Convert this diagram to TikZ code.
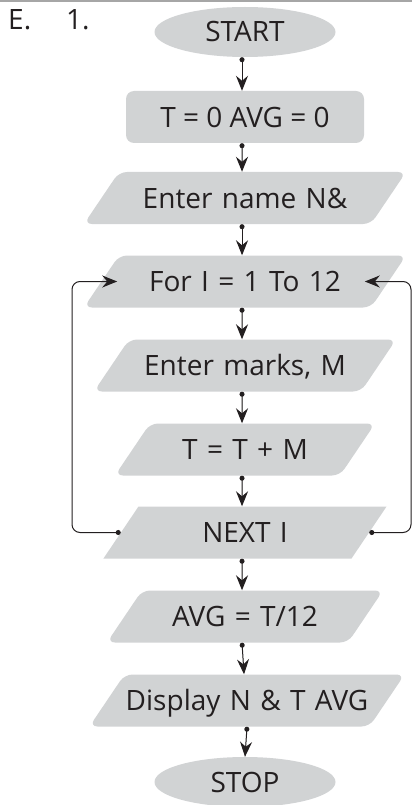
\documentclass[tikz,border=0pt]{standalone}
\usepackage{fontspec}
\setmainfont{Open Sans}
\usepackage{tikz}
\usetikzlibrary{
    arrows.meta,
    shapes.geometric,
    positioning
}
\definecolor{boxgray}{HTML}{D1D3D4}
\definecolor{ink}{HTML}{231F20}
\tikzset{
    >={Stealth[length=15pt, width=12pt, inset=5pt]},
    flow/.style={{Circle[length=5pt, width=5pt]}->, line width=1pt, draw=ink, fill=ink}
}

\begin{document}
\begin{tikzpicture}[x=1pt, y=1pt,
        every node/.style={font=\fontsize{28}{34}\selectfont, text=ink},
        term/.style={ellipse, fill=boxgray, minimum width=181pt, minimum height=50pt, inner sep=0pt},
        proc/.style={rectangle, rounded corners=8pt, fill=boxgray, minimum width=238pt, minimum height=52pt, inner sep=0pt},
        io/.style={trapezium, trapezium left angle=56, trapezium right angle=124, fill=boxgray,
            rounded corners=8pt, inner xsep=0pt, inner ysep=16pt, text height=20pt, text depth=0pt,
            align=center, text width=#1}
    ]
    \useasboundingbox (0,0) rectangle (412,-805);
    \draw[gray!70, line width=1.5pt] (0,-0.8) -- (412,-0.8);

    \node[anchor=base west, inner sep=0pt] (lbl) at (8,-30) {E.};
    \node[anchor=base west, inner sep=0pt] (num) at (66,-30) {1.};

    \node[term] (st) at (245,-32) {START};
    \node[proc] (n1) at (245,-117) {T = 0 AVG = 0};
    \node[io=252pt] (n2) at (245,-198) {Enter name N\&};
    \node[io=252pt] (n3) at (245,-281.5) {For I = 1 To 12};
    \node[io=232pt] (n4) at (245,-365.5) {Enter marks, M};
    \node[io=190pt] (n5) at (245,-449.5) {T = T + M};
    \node[io=213pt, sharp corners] (n6) at (245,-532.5) {NEXT I};
    \node[io=206pt] (n7) at (245,-616.5) {AVG = T/12};
    \node[io=245pt] (n8) at (247,-700.5) {Display N \& T AVG};
    \node[term] (sp) at (245,-782) {STOP};

    \draw[flow] ([xshift=-3pt]st.south) -- ([xshift=-3pt]n1.north);
    \draw[flow] ([xshift=-3pt]n1.south) -- ([xshift=-3pt]n2.north);
    \draw[flow] ([xshift=-3pt]n2.south) -- ([xshift=-3pt]n3.north);
    \draw[flow] ([xshift=-3pt]n3.south) -- ([xshift=-3pt]n4.north);
    \draw[flow] ([xshift=-3pt]n4.south) -- ([xshift=-3pt]n5.north);
    \draw[flow] ([xshift=-3pt]n5.south) -- ([xshift=-3pt]n6.north);
    \draw[flow] ([xshift=-3pt]n6.south) -- ([xshift=-3pt]n7.north);
    \draw[flow] ([xshift=-3pt]n7.south) -- ([xshift=-3pt]n8.north);
    \draw[flow] (n8.south) -- (sp.north);

    % loop back to the For box
    \coordinate (lx) at (72,0);
    \coordinate (rx) at (411,0);
    \draw[flow, fill=none, rounded corners=8pt] (n6.left side) -| (lx |- n3.left side) -- ([xshift=16pt]n3.left side);
    \draw[flow, fill=none, rounded corners=8pt] (n6.right side) -| (rx |- n3.right side) -- ([xshift=-24pt]n3.right side);
\end{tikzpicture}
\end{document}
